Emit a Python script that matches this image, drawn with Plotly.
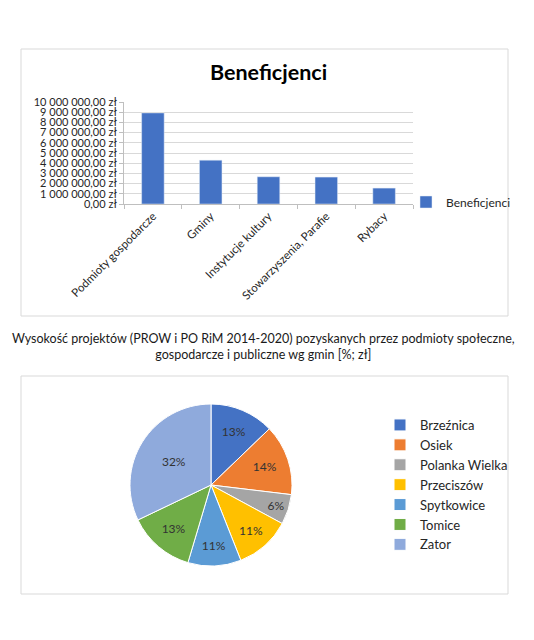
import plotly.graph_objects as go

# ---- data: bar chart ----
bar_title = "Beneficjenci"
categories = ["Podmioty gospodarcze", "Gminy", "Instytucje kultury",
              "Stowarzyszenia, Parafie", "Rybacy"]
values_zl = [8930000, 4300000, 2670000, 2640000, 1560000]
y_tick_vals = [0, 1e6, 2e6, 3e6, 4e6, 5e6, 6e6, 7e6, 8e6, 9e6, 10e6]
y_tick_text = ["0,00 zł", "1 000 000,00 zł", "2 000 000,00 zł", "3 000 000,00 zł",
               "4 000 000,00 zł", "5 000 000,00 zł", "6 000 000,00 zł",
               "7 000 000,00 zł", "8 000 000,00 zł", "9 000 000,00 zł",
               "10 000 000,00 zł"]

# ---- data: pie chart ----
pie_title = ("Wysokość projektów (PROW i PO RiM 2014-2020) pozyskanych przez podmioty społeczne,"
             "<br>gospodarcze i publiczne wg gmin [%; zł]")
gminy = ["Brzeźnica", "Osiek", "Polanka Wielka", "Przeciszów", "Spytkowice", "Tomice", "Zator"]
shares = [12.8, 14.1, 6.0, 11.1, 10.6, 13.3, 32.1]
pie_colors = ["#4472C4", "#ED7D31", "#A5A5A5", "#FFC000", "#5B9BD5", "#70AD47", "#8FAADC"]

# page is drawn with an 8px body margin; the figure is sized to fit the window
OFF = 8
W, H = 534 - OFF, 640 - 2 * OFF
FONT = "Lato"

def px(x):
    return (x - OFF) / W

def py(y):
    return 1 - (y - OFF) / H

fig = go.Figure()

fig.add_trace(go.Bar(
    x=categories, y=values_zl, name=bar_title,
    marker=dict(color="#4472C4"), width=0.39,
    showlegend=True, legend="legend",
))

fig.add_trace(go.Pie(
    labels=gminy, values=shares, sort=False, direction="clockwise", rotation=0,
    marker=dict(colors=pie_colors, line=dict(color="white", width=1)),
    textinfo="percent", texttemplate="%{percent:.0%}",
    textposition="inside", insidetextorientation="horizontal",
    textfont=dict(family=FONT, size=12, color="#333333"),
    domain=dict(x=[px(130), px(292)], y=[py(566), py(404)]),
    legend="legend2", hoverinfo="label+percent",
))

fig.update_layout(
    width=W, height=H,
    margin=dict(l=0, r=0, t=0, b=0, autoexpand=False),
    paper_bgcolor="white", plot_bgcolor="white",
    font=dict(family=FONT, color="#262626"),
    xaxis=dict(domain=[px(124), px(413)], tickangle=-45, automargin=False,
               tickfont=dict(size=11.5, color="#262626"),
               ticks="outside", tickson="boundaries", ticklen=4,
               tickcolor="#BFBFBF", showline=True, linecolor="#BFBFBF",
               showgrid=False, fixedrange=True),
    yaxis=dict(domain=[py(204), py(102)], range=[0, 10e6], automargin=False,
               tickvals=y_tick_vals, ticktext=y_tick_text,
               tickfont=dict(size=11, color="#262626"),
               ticks="outside", ticklen=4, tickcolor="#BFBFBF",
               showline=True, linecolor="#BFBFBF",
               gridcolor="#D9D9D9", zeroline=False, fixedrange=True),
    legend=dict(x=px(406), y=py(202), xanchor="left", yanchor="middle",
                font=dict(size=12, color="#262626"), bgcolor="rgba(0,0,0,0)",
                itemwidth=30),
    legend2=dict(x=px(380), y=py(485), xanchor="left", yanchor="middle",
                 font=dict(size=13, color="#262626"), bgcolor="rgba(0,0,0,0)",
                 itemwidth=30),
    shapes=[
        dict(type="rect", xref="paper", yref="paper",
             x0=px(21), x1=px(508), y0=py(316), y1=py(49),
             line=dict(color="#D9D9D9", width=1)),
        dict(type="rect", xref="paper", yref="paper",
             x0=px(21), x1=px(508), y0=py(594), y1=py(376),
             line=dict(color="#D9D9D9", width=1)),
    ],
    annotations=[
        dict(text="<b>" + bar_title + "</b>", xref="paper", yref="paper",
             x=px(268), y=py(72), showarrow=False, xanchor="center", yanchor="middle",
             font=dict(size=21.5, color="#000000", family=FONT)),
        dict(text=pie_title, xref="paper", yref="paper",
             x=px(263), y=py(346), showarrow=False, xanchor="center", yanchor="middle",
             font=dict(size=12.5, color="#1a1a1a", family=FONT)),
    ],
)

fig.write_html("out.html")
